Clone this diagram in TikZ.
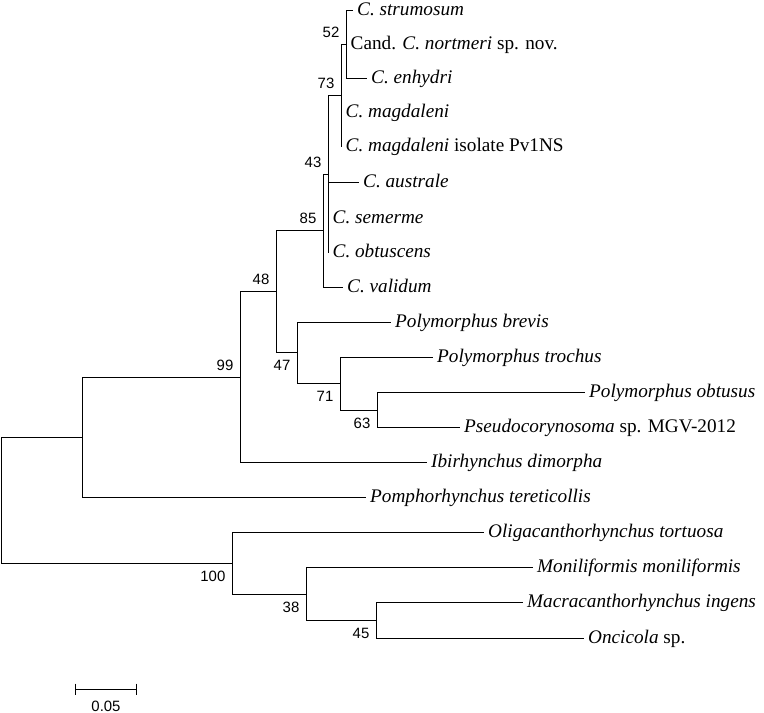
\documentclass[tikz,border=0pt]{standalone}
\usepackage{fontspec}
\setmainfont{Liberation Serif}
\newfontfamily\bootfont{Liberation Sans}
\usepackage{tikz}
\usetikzlibrary{positioning, calc}
\tikzset{
  branch/.style={draw, line width=1.7bp},
  leaf/.style={anchor=west, inner xsep=4pt, inner ysep=0pt, text height=12pt, text depth=2pt, font=\fontsize{19.3}{22}\selectfont},
  boot/.style={inner sep=0pt, font=\bootfont\fontsize{15}{18}\selectfont},
  bootup/.style={boot, anchor=east, xshift=-7pt, yshift=12.5pt},
  bootdown/.style={boot, anchor=east, xshift=-7pt, yshift=-12.5pt},
}

\begin{document}
\begin{tikzpicture}[x=1bp, y=-1bp]
  \useasboundingbox (0,0) rectangle (764,713);

  % leaves
  \node[leaf] (strum) at (353,10.5) {\textit{C. strumosum}};
  \node[leaf] (nort) at (346.5,44.5) {Cand. \textit{C. nortmeri} sp. nov.};
  \node[leaf] (enhy) at (367,78.5) {\textit{C. enhydri}};
  \node[leaf] (magd) at (341.5,112.5) {\textit{C. magdaleni}};
  \node[leaf] (magiso) at (341.5,146.5) {\textit{C. magdaleni} isolate Pv1NS};
  \node[leaf] (aust) at (359,182.5) {\textit{C. australe}};
  \node[leaf] (seme) at (328.5,218.5) {\textit{C. semerme}};
  \node[leaf] (obtu) at (328.5,252.5) {\textit{C. obtuscens}};
  \node[leaf] (vali) at (343,287.5) {\textit{C. validum}};
  \node[leaf] (pbrev) at (391,322.5) {\textit{Polymorphus brevis}};
  \node[leaf] (ptroc) at (433,357.5) {\textit{Polymorphus trochus}};
  \node[leaf] (pobtu) at (585,392.5) {\textit{Polymorphus obtusus}};
  \node[leaf] (pseu) at (460,427.5) {\textit{Pseudocorynosoma} sp. MGV-2012};
  \node[leaf] (ibir) at (427,462.5) {\textit{Ibirhynchus dimorpha}};
  \node[leaf] (pomp) at (366,497.5) {\textit{Pomphorhynchus tereticollis}};
  \node[leaf] (olig) at (484,532.5) {\textit{Oligacanthorhynchus tortuosa}};
  \node[leaf] (moni) at (533,567.5) {\textit{Moniliformis moniliformis}};
  \node[leaf] (macr) at (523,602.5) {\textit{Macracanthorhynchus ingens}};
  \node[leaf] (onci) at (584,638.5) {\textit{Oncicola} sp.};

  % internal nodes
  \coordinate (n52) at (346.5,44.5);
  \coordinate (n73) at (341.5,95.5);
  \coordinate (n43) at (328.5,174.5);
  \coordinate (n85) at (323.5,230.5);
  \coordinate (n63) at (377.5,410.5);
  \coordinate (n71) at (340.5,383.5);
  \coordinate (n47) at (297.5,352.5);
  \coordinate (n48) at (276.5,291.5);
  \coordinate (n99) at (240.5,377.5);
  \coordinate (nup) at (82.5,437.5);
  \coordinate (n45) at (376.5,620.5);
  \coordinate (n38) at (306.5,594.5);
  \coordinate (n100) at (232.5,563.5);
  \coordinate (root) at (1.5,500.5);

  % branches
  \draw[branch] (n52) |- (strum.west);
  \draw[branch] (n52) |- (nort.west);
  \draw[branch] (n52) |- (enhy.west);
  \draw[branch] (n73) |- (n52);
  \draw[branch] (n73) |- (magd.west);
  \draw[branch] (n73) |- (magiso.west);
  \draw[branch] (n43) |- (n73);
  \draw[branch] (n43) |- (aust.west);
  \draw[branch] (n43) |- (seme.west);
  \draw[branch] (n43) |- (obtu.west);
  \draw[branch] (n85) |- (n43);
  \draw[branch] (n85) |- (vali.west);
  \draw[branch] (n63) |- (pobtu.west);
  \draw[branch] (n63) |- (pseu.west);
  \draw[branch] (n71) |- (ptroc.west);
  \draw[branch] (n71) |- (n63);
  \draw[branch] (n47) |- (pbrev.west);
  \draw[branch] (n47) |- (n71);
  \draw[branch] (n48) |- (n85);
  \draw[branch] (n48) |- (n47);
  \draw[branch] (n99) |- (n48);
  \draw[branch] (n99) |- (ibir.west);
  \draw[branch] (nup) |- (n99);
  \draw[branch] (nup) |- (pomp.west);
  \draw[branch] (n45) |- (macr.west);
  \draw[branch] (n45) |- (onci.west);
  \draw[branch] (n38) |- (moni.west);
  \draw[branch] (n38) |- (n45);
  \draw[branch] (n100) |- (olig.west);
  \draw[branch] (n100) |- (n38);
  \draw[branch] (root) |- (nup);
  \draw[branch] (root) |- (n100);

  % bootstrap values
  \node[bootup] (b52) at (n52) {52};
  \node[bootup] (b73) at (n73) {73};
  \node[bootup] (b43) at (n43) {43};
  \node[bootup] (b85) at (n85) {85};
  \node[bootup] (b48) at (n48) {48};
  \node[bootup] (b99) at (n99) {99};
  \node[bootdown] (b47) at (n47) {47};
  \node[bootdown] (b71) at (n71) {71};
  \node[bootdown] (b63) at (n63) {63};
  \node[bootdown] (b100) at (n100) {100};
  \node[bootdown] (b38) at (n38) {38};
  \node[bootdown] (b45) at (n45) {45};

  % scale bar
  \coordinate (sbl) at (75.5,689.5);
  \coordinate (sbr) at (136.5,689.5);
  \draw[branch] (sbl) -- (sbr);
  \draw[branch] ([yshift=5.8pt]sbl) -- ([yshift=-5.8pt]sbl);
  \draw[branch] ([yshift=5.8pt]sbr) -- ([yshift=-5.8pt]sbr);
  \node[boot, below=11pt of $(sbl)!0.5!(sbr)$] (sblab) {0.05};
\end{tikzpicture}
\end{document}
